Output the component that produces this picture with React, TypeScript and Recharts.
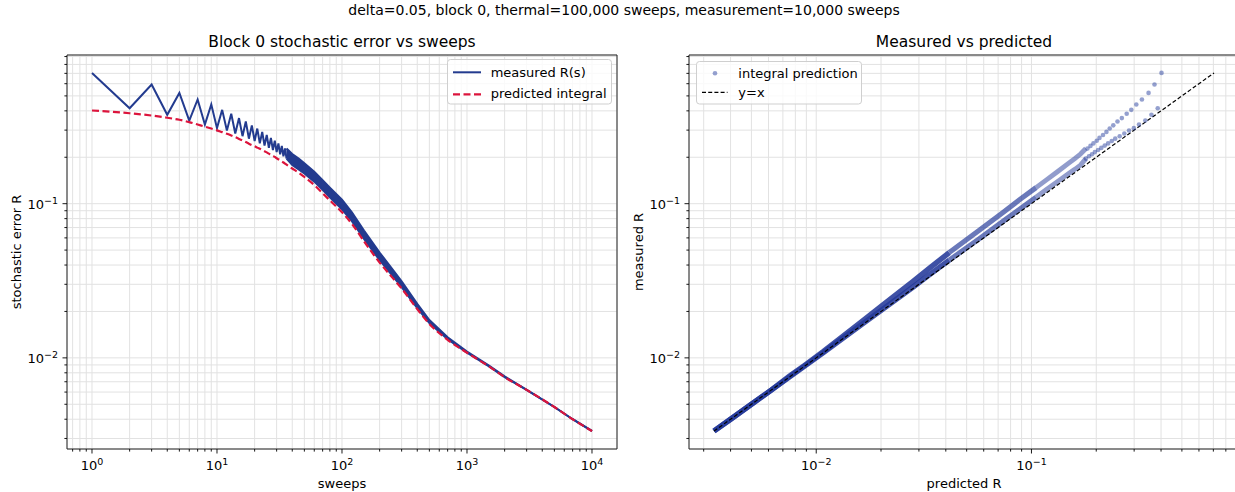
import React from "react";
import {
  ComposedChart,
  Line,
  Area,
  Scatter,
  XAxis,
  YAxis,
  CartesianGrid,
  ReferenceArea,
} from "recharts";

const FONT = '"DejaVu Sans", Verdana, sans-serif';
const BLUE = "#233b8f";
const RED = "#dc143c";
const DOT = "#2a42a0";
const DENSE = "#24399a";
const GRID = "#e2e2e2";

// sweeps 1..36: odd/even zigzag is still resolved
const ZIG_SWEEPS = [
  1, 2, 3, 4, 5, 6, 7, 8, 9, 10, 11, 12, 13, 14, 15, 16, 17, 18, 19, 20, 21, 22, 23, 24, 25, 26, 27, 28,
  29, 30, 31, 32, 33, 34, 35, 36,
];
const ZIG_MEASURED = [
  0.705, 0.416, 0.593, 0.377, 0.523, 0.346, 0.474, 0.326, 0.44, 0.309, 0.406, 0.298, 0.383, 0.285,
  0.359, 0.274, 0.341, 0.264, 0.322, 0.255, 0.307, 0.246, 0.292, 0.238, 0.279, 0.23, 0.267, 0.223,
  0.256, 0.216, 0.246, 0.209, 0.237, 0.203, 0.228, 0.196,
];
const ZIG_PREDICTED = [
  0.402, 0.386, 0.373, 0.361, 0.35, 0.338, 0.326, 0.316, 0.307, 0.299, 0.291, 0.284, 0.277, 0.27,
  0.263, 0.257, 0.251, 0.245, 0.24, 0.236, 0.231, 0.227, 0.223, 0.219, 0.215, 0.211, 0.207, 0.204,
  0.201, 0.197, 0.194, 0.191, 0.188, 0.185, 0.182, 0.179,
];

// from 36 sweeps on the even/odd oscillation is a solid band (low = even, high = odd)
const BAND_SWEEPS = [
  36, 40, 45, 50, 60, 70, 80, 100, 120, 150, 200, 250, 300, 400, 500, 700, 1000, 1500, 2000, 3000,
  5000, 7000, 10000,
];
const BAND_PREDICTED = [
  0.179, 0.169, 0.159, 0.149, 0.132, 0.117, 0.105, 0.088, 0.074, 0.057, 0.0415, 0.0335, 0.0282,
  0.0207, 0.0166, 0.0131, 0.0108, 0.0088, 0.0075, 0.0062, 0.0048, 0.004, 0.00335,
];
const BAND_LOW = [
  0.196, 0.178, 0.167, 0.157, 0.139, 0.123, 0.11, 0.092, 0.077, 0.059, 0.043, 0.0345, 0.0288,
  0.021, 0.0168, 0.0132, 0.0108, 0.0088, 0.0075, 0.0062, 0.0048, 0.004, 0.00335,
];
const BAND_HIGH = [
  0.228, 0.21, 0.196, 0.183, 0.161, 0.142, 0.127, 0.106, 0.088, 0.067, 0.0482, 0.038, 0.0313,
  0.0224, 0.0176, 0.0136, 0.011, 0.0089, 0.0076, 0.0062, 0.0048, 0.004, 0.00336,
];
// how heavily the scatter points pile up, by range of sweeps
const DENSITY_TIERS = [
  { from: 36, to: 80, opacity: 0.5, width: 4.8 },
  { from: 80, to: 200, opacity: 0.68, width: 5.1 },
  { from: 200, to: 10000, opacity: 0.88, width: 5.4 },
];

// y=x reference spans the min/max of all values
const IDENTITY_RANGE = [0.00335, 0.705];

const SWEEP_MAJOR = [1, 10, 100, 1000, 10000];
const SWEEP_EXP = ["0", "1", "2", "3", "4"];
const SWEEP_MINOR = [
  0.7, 0.8, 0.9, 2, 3, 4, 5, 6, 7, 8, 9, 20, 30, 40, 50, 60, 70, 80, 90, 200, 300, 400, 500, 600, 700,
  800, 900, 2000, 3000, 4000, 5000, 6000, 7000, 8000, 9000,
];
const R_MAJOR = [0.01, 0.1];
const R_EXP = ["\u22122", "\u22121"];
const R_MINOR = [
  0.003, 0.004, 0.005, 0.006, 0.007, 0.008, 0.009, 0.02, 0.03, 0.04, 0.05, 0.06, 0.07, 0.08, 0.09,
  0.2, 0.3, 0.4, 0.5, 0.6, 0.7, 0.8, 0.9,
];

const SWEEP_DOMAIN = [0.631, 15849];
const R_DOMAIN = [0.002564, 0.921];

const SWEEP_TICKS = [...SWEEP_MAJOR, ...SWEEP_MINOR].sort((a, b) => a - b);
const R_TICKS = [...R_MAJOR, ...R_MINOR].sort((a, b) => a - b);

const zigRows = ZIG_SWEEPS.map((s, i) => ({ s, meas: ZIG_MEASURED[i], pred: ZIG_PREDICTED[i] }));
const bandRows = BAND_SWEEPS.map((s, i) => ({
  s,
  pred: BAND_PREDICTED[i],
  band: [BAND_LOW[i], BAND_HIGH[i]],
}));
const lastZig = ZIG_SWEEPS[ZIG_SWEEPS.length - 1];
const predRows = [
  ...zigRows.map((r) => ({ s: r.s, pred: r.pred })),
  ...bandRows.filter((r) => r.s > lastZig).map((r) => ({ s: r.s, pred: r.pred })),
];

const scatterPts = zigRows.map((r) => ({ x: r.pred, y: r.meas }));
const branches = DENSITY_TIERS.flatMap((tier) => {
  const rows = bandRows.filter((r) => r.s >= tier.from && r.s <= tier.to);
  return [0, 1].map((idx) => ({
    key: `${tier.from}-${idx}`,
    opacity: tier.opacity,
    width: tier.width,
    data: rows.map((r) => ({ x: r.pred, y: r.band[idx] })),
  }));
});
const identity = IDENTITY_RANGE.map((v) => ({ x: v, y: v }));

function XTick(props: any) {
  const { x, y, payload, majors, exps } = props;
  const idx = majors.indexOf(payload.value);
  const major = idx >= 0;
  return (
    <g>
      <line x1={x} x2={x} y1={y} y2={y + (major ? 4.5 : 2.6)} stroke="#000" strokeWidth={0.9} />
      {major && (
        <text x={x} y={y + 21} textAnchor="middle" fontFamily={FONT} fontSize={13} fill="#000">
          10
          <tspan dy={-5.5} fontSize={9.5}>
            {exps[idx]}
          </tspan>
        </text>
      )}
    </g>
  );
}

function YTick(props: any) {
  const { x, y, payload, majors, exps } = props;
  const idx = majors.indexOf(payload.value);
  const major = idx >= 0;
  return (
    <g>
      <line x1={x - (major ? 4.5 : 2.6)} x2={x} y1={y} y2={y} stroke="#000" strokeWidth={0.9} />
      {major && (
        <text x={x - 9} y={y + 5.5} textAnchor="end" fontFamily={FONT} fontSize={13} fill="#000">
          10
          <tspan dy={-5.5} fontSize={9.5}>
            {exps[idx]}
          </tspan>
        </text>
      )}
    </g>
  );
}

const MARGIN = { top: 55, right: 23, bottom: 3, left: 7 };

function ErrorChart() {
  return (
    <ComposedChart width={640} height={492} margin={MARGIN}>
      <CartesianGrid stroke={GRID} strokeWidth={1} />
      <XAxis
        dataKey="s"
        type="number"
        scale="log"
        domain={SWEEP_DOMAIN}
        allowDataOverflow
        ticks={SWEEP_TICKS}
        interval={0}
        height={40}
        axisLine={false}
        tickLine={false}
        tickSize={0}
        tickMargin={0}
        tick={(p: any) => <XTick {...p} majors={SWEEP_MAJOR} exps={SWEEP_EXP} />}
      />
      <YAxis
        type="number"
        scale="log"
        domain={R_DOMAIN}
        allowDataOverflow
        ticks={R_TICKS}
        interval={0}
        width={60}
        axisLine={false}
        tickLine={false}
        tickSize={0}
        tickMargin={0}
        tick={(p: any) => <YTick {...p} majors={R_MAJOR} exps={R_EXP} />}
      />
      <Area
        data={bandRows}
        dataKey="band"
        type="linear"
        stroke={BLUE}
        strokeWidth={2}
        fill={BLUE}
        fillOpacity={1}
        isAnimationActive={false}
        legendType="none"
      />
      <Line
        data={zigRows}
        dataKey="meas"
        type="linear"
        stroke={BLUE}
        strokeWidth={2}
        dot={false}
        isAnimationActive={false}
        name="measured R(s)"
      />
      <Line
        data={predRows}
        dataKey="pred"
        type="monotone"
        stroke={RED}
        strokeWidth={2.2}
        strokeDasharray="7 3.5"
        dot={false}
        isAnimationActive={false}
        name="predicted integral"
      />
      <ReferenceArea
        x1={SWEEP_DOMAIN[0]}
        x2={SWEEP_DOMAIN[1]}
        y1={R_DOMAIN[0]}
        y2={R_DOMAIN[1]}
        fill="none"
        stroke="#222"
        strokeWidth={1}
        ifOverflow="visible"
      />
    </ComposedChart>
  );
}

function ScatterChartPanel() {
  return (
    <ComposedChart width={640} height={492} margin={MARGIN}>
      <CartesianGrid stroke={GRID} strokeWidth={1} />
      <XAxis
        dataKey="x"
        type="number"
        scale="log"
        domain={R_DOMAIN}
        allowDataOverflow
        ticks={R_TICKS}
        interval={0}
        height={40}
        axisLine={false}
        tickLine={false}
        tickSize={0}
        tickMargin={0}
        tick={(p: any) => <XTick {...p} majors={R_MAJOR} exps={R_EXP} />}
      />
      <YAxis
        dataKey="y"
        type="number"
        scale="log"
        domain={R_DOMAIN}
        allowDataOverflow
        ticks={R_TICKS}
        interval={0}
        width={60}
        axisLine={false}
        tickLine={false}
        tickSize={0}
        tickMargin={0}
        tick={(p: any) => <YTick {...p} majors={R_MAJOR} exps={R_EXP} />}
      />
      {branches.map((b) => (
        <Line
          key={b.key}
          data={b.data}
          dataKey="y"
          type="linear"
          stroke={DENSE}
          strokeOpacity={b.opacity}
          strokeWidth={b.width}
          strokeLinecap="butt"
          dot={false}
          isAnimationActive={false}
          legendType="none"
        />
      ))}
      <Scatter
        data={scatterPts}
        dataKey="y"
        isAnimationActive={false}
        name="integral prediction"
        shape={(p: any) => <circle cx={p.cx} cy={p.cy} r={2.3} fill={DOT} fillOpacity={0.5} />}
      />
      <Line
        data={identity}
        dataKey="y"
        type="linear"
        stroke="#000"
        strokeWidth={1.2}
        strokeDasharray="4 2.2"
        dot={false}
        isAnimationActive={false}
        name="y=x"
      />
      <ReferenceArea
        x1={R_DOMAIN[0]}
        x2={R_DOMAIN[1]}
        y1={R_DOMAIN[0]}
        y2={R_DOMAIN[1]}
        fill="none"
        stroke="#222"
        strokeWidth={1}
        ifOverflow="visible"
      />
    </ComposedChart>
  );
}

function Overlay() {
  const t = { fontFamily: FONT, fill: "#000" } as const;
  return (
    <svg
      width={1235}
      height={492}
      style={{ position: "absolute", left: 0, top: 0, pointerEvents: "none" }}
    >
      <text x={624} y={15} textAnchor="middle" fontSize={14} {...t}>
        delta=0.05, block 0, thermal=100,000 sweeps, measurement=10,000 sweeps
      </text>
      <text x={342} y={47} textAnchor="middle" fontSize={15.5} {...t}>
        Block 0 stochastic error vs sweeps
      </text>
      <text x={964} y={47} textAnchor="middle" fontSize={15.5} {...t}>
        Measured vs predicted
      </text>
      <text x={342} y={488} textAnchor="middle" fontSize={13} {...t}>
        sweeps
      </text>
      <text x={964} y={488} textAnchor="middle" fontSize={13} {...t}>
        predicted R
      </text>
      <text transform="translate(21,252) rotate(-90)" textAnchor="middle" fontSize={13} {...t}>
        stochastic error R
      </text>
      <text transform="translate(643,252) rotate(-90)" textAnchor="middle" fontSize={13} {...t}>
        measured R
      </text>

      {/* left legend */}
      <rect x={447.5} y={59.5} width={164} height={44.5} rx={3} fill="#fff" fillOpacity={0.8} stroke="#cfcfcf" />
      <line x1={453} x2={481} y1={72.3} y2={72.3} stroke={BLUE} strokeWidth={2} />
      <line x1={453} x2={481} y1={94.3} y2={94.3} stroke={RED} strokeWidth={2.2} strokeDasharray="7 3.5" />
      <text x={490.7} y={76.8} fontSize={13} {...t}>
        measured R(s)
      </text>
      <text x={490.7} y={98.3} fontSize={13} {...t}>
        predicted integral
      </text>

      {/* right legend */}
      <rect x={696.5} y={61.5} width={165} height={42.5} rx={3} fill="#fff" fillOpacity={0.8} stroke="#cfcfcf" />
      <circle cx={715} cy={73.3} r={2.3} fill={DOT} fillOpacity={0.5} />
      <line x1={702} x2={727.5} y1={92.3} y2={92.3} stroke="#000" strokeWidth={1.2} strokeDasharray="4 2.2" />
      <text x={738.3} y={77.5} fontSize={13} {...t}>
        integral prediction
      </text>
      <text x={738.3} y={96.5} fontSize={13} {...t}>
        y=x
      </text>
    </svg>
  );
}

export default function App() {
  return (
    <div
      style={{
        position: "absolute",
        left: 0,
        top: 0,
        width: 1235,
        height: 492,
        overflow: "hidden",
        background: "#fff",
        fontFamily: FONT,
      }}
    >
      <div style={{ position: "absolute", left: 0, top: 0 }}>
        <ErrorChart />
      </div>
      <div style={{ position: "absolute", left: 622, top: 0 }}>
        <ScatterChartPanel />
      </div>
      <Overlay />
    </div>
  );
}
